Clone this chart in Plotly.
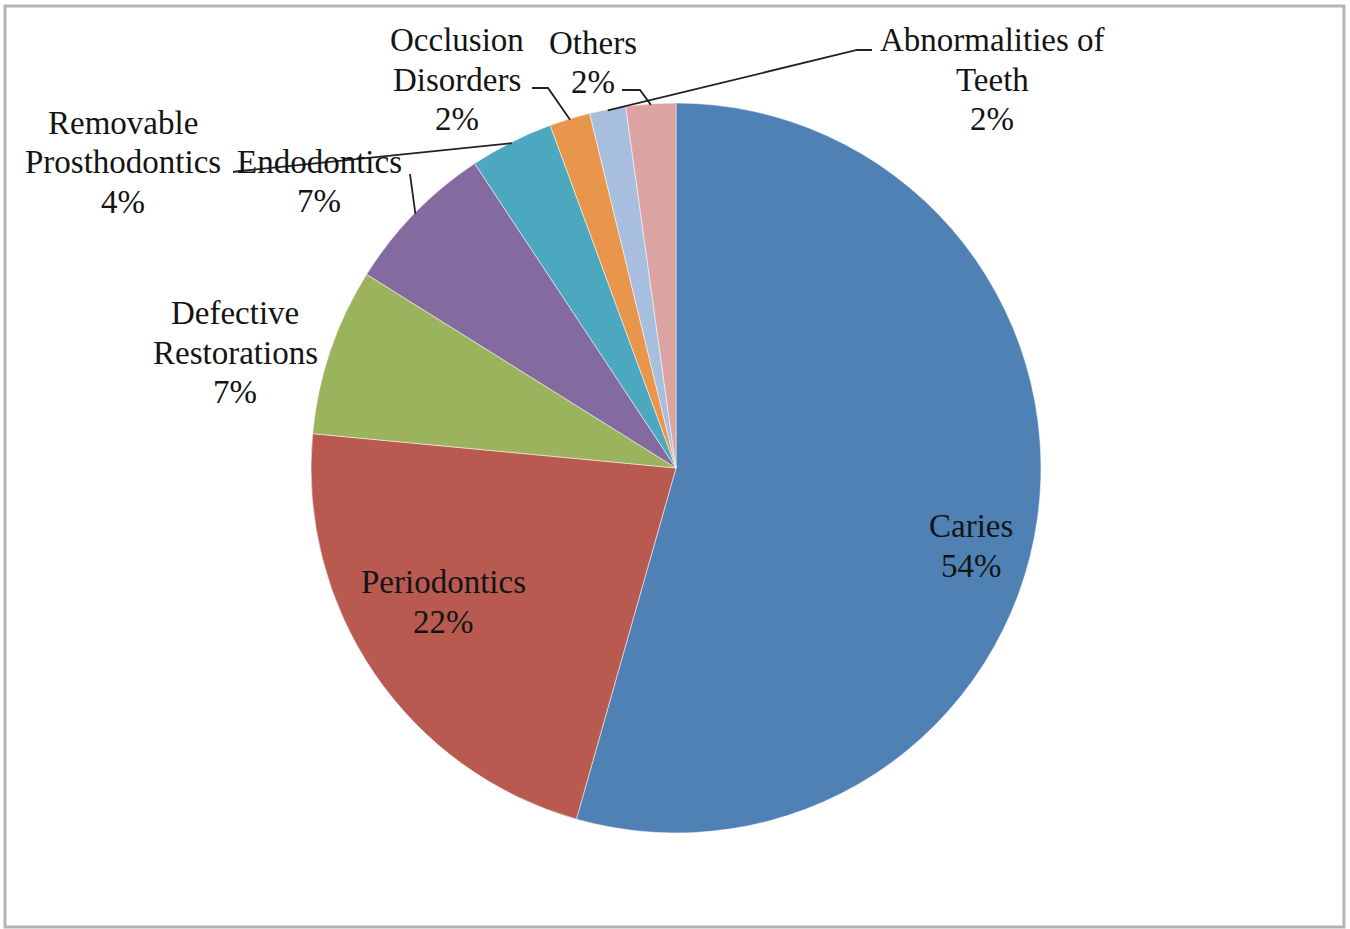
import math
import plotly.graph_objects as go

# Share of cases by treatment category (percent)
categories = [
    "Caries",
    "Periodontics",
    "Defective Restorations",
    "Endodontics",
    "Removable Prosthodontics",
    "Occlusion Disorders",
    "Abnormalities of Teeth",
    "Others",
]
values = [54.4, 22.1, 7.4, 6.8, 3.7, 1.8, 1.6, 2.2]
label_lines = [
    ["Caries"],
    ["Periodontics"],
    ["Defective", "Restorations"],
    ["Endodontics"],
    ["Removable", "Prosthodontics"],
    ["Occlusion", "Disorders"],
    ["Abnormalities of", "Teeth"],
    ["Others"],
]
colors = ["#4F81B5", "#B85A50", "#9BB35C", "#836BA0",
          "#4BA8BF", "#E8964B", "#A7BEDE", "#DBA3A2"]

W, H = 1350, 929
CX, CY, R = 676, 468, 365          # pie centre and radius in pixels
FONT = "Liberation Serif"
FSIZE = 33
LINE_GAP = 39.5

# first-line centre of each label block, in pixels
label_pos = {
    "Caries": (971, 526),
    "Periodontics": (443, 582),
    "Defective Restorations": (235, 313),
    "Endodontics": (319, 162),
    "Removable Prosthodontics": (123, 123),
    "Occlusion Disorders": (457, 40),
    "Abnormalities of Teeth": (992, 40),
    "Others": (593, 43),
}

# leader-line start points near each outside label (pixels)
leader_start = {
    "Removable Prosthodontics": [(233, 172), (240, 171)],
    "Endodontics": [(410, 174)],
    "Occlusion Disorders": [(532, 88), (548, 88)],
    "Others": [(622, 90), (640, 90)],
    "Abnormalities of Teeth": [(872, 50), (857, 50)],
}


def px(x):
    return x / W


def py(y):
    return 1 - y / H


fig = go.Figure(go.Pie(
    labels=categories,
    values=values,
    sort=False,
    direction="clockwise",
    rotation=0,
    textinfo="none",
    hoverinfo="label+percent",
    marker=dict(colors=colors, line=dict(color="rgba(255,255,255,0.5)", width=1)),
    domain=dict(x=[px(CX - R), px(CX + R)], y=[py(CY + R), py(CY - R)]),
    showlegend=False,
))

total = sum(values)
annotations = []
shapes = []
cum = 0
for name, v, lines in zip(categories, values, label_lines):
    pct = f"{v / total:.0%}"
    x0, y0 = label_pos[name]
    for i, t in enumerate(lines + [pct]):
        annotations.append(dict(
            x=px(x0), y=py(y0 + i * LINE_GAP), xref="paper", yref="paper",
            text=t, showarrow=False, xanchor="center", yanchor="middle",
            font=dict(family=FONT, size=FSIZE, color="#141414"),
        ))
    theta = 2 * math.pi * (cum + v / 2) / total
    cum += v
    if name in leader_start:
        ex = CX + (R - 1) * math.sin(theta)
        ey = CY - (R - 1) * math.cos(theta)
        pts = leader_start[name] + [(ex, ey)]
        path = "M " + " L ".join(f"{px(a):.5f},{py(b):.5f}" for a, b in pts)
        shapes.append(dict(type="path", path=path, xref="paper", yref="paper",
                           line=dict(color="#222222", width=1.8)))

# outer chart frame
shapes.append(dict(type="rect", xref="paper", yref="paper",
                   x0=px(5), x1=px(1344), y0=py(927), y1=py(6),
                   line=dict(color="#b4b4b4", width=3)))

fig.update_layout(
    width=W, height=H,
    margin=dict(l=0, r=0, t=0, b=0),
    paper_bgcolor="white",
    plot_bgcolor="white",
    annotations=annotations,
    shapes=shapes,
)

fig.write_html("out.html")
